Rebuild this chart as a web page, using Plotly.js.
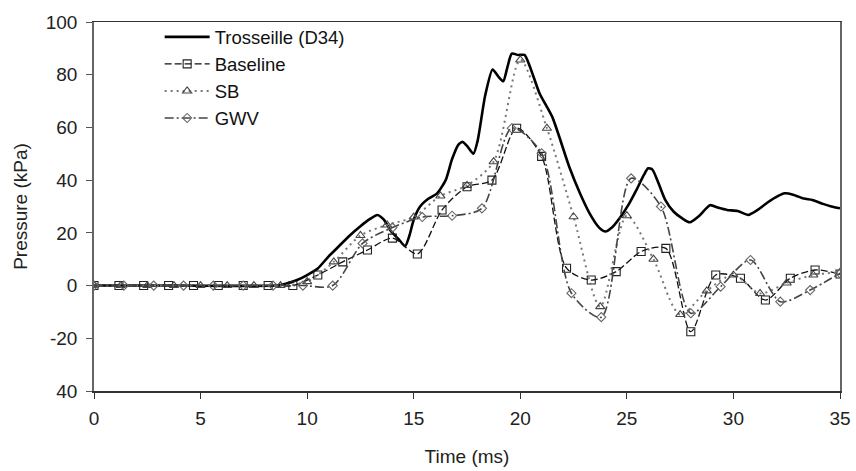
<!DOCTYPE html>
<html>
<head>
<meta charset="utf-8">
<script src="https://cdn.plot.ly/plotly-3.0.1.min.js"></script>
<style>html,body{margin:0;padding:0;background:#fff;}#chart{width:856px;height:471px;}</style>
</head>
<body>
<div id="chart"></div>
<script>
// Trosseille (D34) experimental trace
const trosX = [0,4,8.5,9,9.5,10,10.5,11,11.5,12,12.5,12.9,13.3,13.6,13.9,14.3,14.6,14.8,15.0,15.3,15.7,16.1,16.5,16.8,17.1,17.3,17.5,17.8,18.0,18.35,18.7,19.0,19.2,19.4,19.6,19.9,20.2,20.5,20.9,21.5,22.3,22.8,23.25,23.7,24.0,24.3,24.7,25.1,25.45,25.8,26.0,26.2,26.5,26.8,27.2,27.6,27.95,28.4,28.9,29.3,29.7,30.2,30.7,31.1,31.6,32.1,32.4,32.8,33.3,33.7,34.2,34.6,35];
const trosY = [0,0,0,0.7,2,4,6.5,11,15,19,22.5,25,26.8,25,21,17.5,15,19,25,30,33,35,40,48,53.5,54.5,53,50,55,72,82,79,77.5,83,88,87.5,87.5,82,73,64,45,35,27.4,22,20.5,22,26,31,36.3,42,44.5,44,38.5,32.5,28,25.5,24,26.5,30.5,29.5,28.7,28.3,26.8,28.5,31.5,34,35,34.5,33,32.5,31,30,29.3];

// Baseline
const baseX = [0,1.17,2.33,3.5,4.67,5.83,7,8.17,9.33,10.5,11.67,12.83,14,15.17,16.33,17.5,18.67,19.83,21,22.17,23.33,24.5,25.67,26.83,28,29.17,30.33,31.5,32.67,33.83,35];
const baseY = [0,0,0,0,0,0,0,0,0,4,9,13.5,18,12,28.7,37.5,40,59.7,49,6.6,2.1,5.3,12.9,14.1,-17.5,4,2.8,-5.5,2.8,5.9,4.4];

// SB
const sbX = [0,1.25,2.5,3.75,5,6.25,7.5,8.75,10,11.25,12.5,13.75,15,16.25,17.5,18.75,20,21.25,22.5,23.75,25,26.25,27.5,28.75,30,31.25,32.5,33.75,35];
const sbY = [0,0,0,0,0,0,0,0,1.5,9,19,23,26,34,38,47,85.6,59.7,26.1,-8,26.5,10,-11,-2,4,-3,1,4,5];

// GWV
const gwvX = [0,1.4,2.8,4.2,5.6,7,8.4,9.8,11.2,12.6,14,15.4,16.8,18.2,19.6,21,22.4,23.8,25.2,26.6,28,29.4,30.8,32.2,33.6,35];
const gwvY = [0,0,0,0,0,0,0,0,0,16,22,26,26.5,29.3,59.7,50.2,-2.9,-12,40.7,30,-10.5,-0.4,9.7,-6.1,-1.7,4.7];

const yTickVals = [-40,-20,0,20,40,60,80,100];
const yTickText = ['40','-20','0','20','40','60','80','100'];
const xTickVals = [0,5,10,15,20,25,30,35];

const FONT = 'Liberation Sans, Arial, sans-serif';

const traces = [
  {x: trosX, y: trosY, name: 'Trosseille (D34)', mode: 'lines', legendgroup: 'a',
   line: {color: '#000', width: 2.6, shape: 'spline', smoothing: 0.6}},
  {x: baseX, y: baseY, name: 'Baseline', mode: 'lines+markers', legendgroup: 'b',
   line: {color: '#111', width: 1.3, dash: '7px,3px', shape: 'spline', smoothing: 0.8},
   marker: {symbol: 'square-open', size: 8, color: '#222', line: {width: 1.1}}},
  {x: sbX, y: sbY, name: 'SB', mode: 'lines+markers', legendgroup: 'c',
   line: {color: '#777', width: 2, dash: '2px,4px', shape: 'spline', smoothing: 0.8},
   marker: {symbol: 'triangle-up-open', size: 8, color: '#444', line: {width: 1.1}}},
  {x: gwvX, y: gwvY, name: 'GWV', mode: 'lines+markers', legendgroup: 'd',
   line: {color: '#444', width: 1.6, dash: '9px,3px,2px,3px', shape: 'spline', smoothing: 0.8},
   marker: {symbol: 'diamond-open', size: 7, color: '#666', line: {width: 1.1}}}
];

const layout = {
  width: 856, height: 471,
  margin: {l: 94, r: 16, t: 22, b: 80},
  paper_bgcolor: '#fff', plot_bgcolor: '#fff',
  font: {family: FONT, size: 19, color: '#222'},
  showlegend: true,
  legend: {x: 0.088, y: 1.01, xanchor: 'left', yanchor: 'top', itemwidth: 45,
           bgcolor: 'rgba(0,0,0,0)', font: {family: FONT, size: 18.5, color: '#111'},
           traceorder: 'grouped', tracegroupgap: 0},
  xaxis: {range: [0, 35], tickvals: xTickVals, ticks: 'outside', ticklen: 6, tickcolor: '#333',
          ticklabelstandoff: 4,
          showline: true, linecolor: '#333', linewidth: 1.5, mirror: true,
          showgrid: false, zeroline: false,
          tickfont: {family: FONT, size: 19, color: '#222'},
          title: {text: 'Time (ms)', font: {family: FONT, size: 19, color: '#222'}, standoff: 21}},
  yaxis: {range: [-40, 100], tickvals: yTickVals, ticktext: yTickText, ticks: 'outside', ticklen: 6, tickcolor: '#555',
          ticklabelstandoff: 5,
          showline: true, linecolor: '#666', linewidth: 1.8, mirror: true,
          showgrid: false, zeroline: false,
          tickfont: {family: FONT, size: 19, color: '#222'},
          title: {text: 'Pressure (kPa)', font: {family: FONT, size: 19, color: '#222'}, standoff: 13}}
};

Plotly.newPlot('chart', traces, layout, {displayModeBar: false, staticPlot: true});
</script>
</body>
</html>
